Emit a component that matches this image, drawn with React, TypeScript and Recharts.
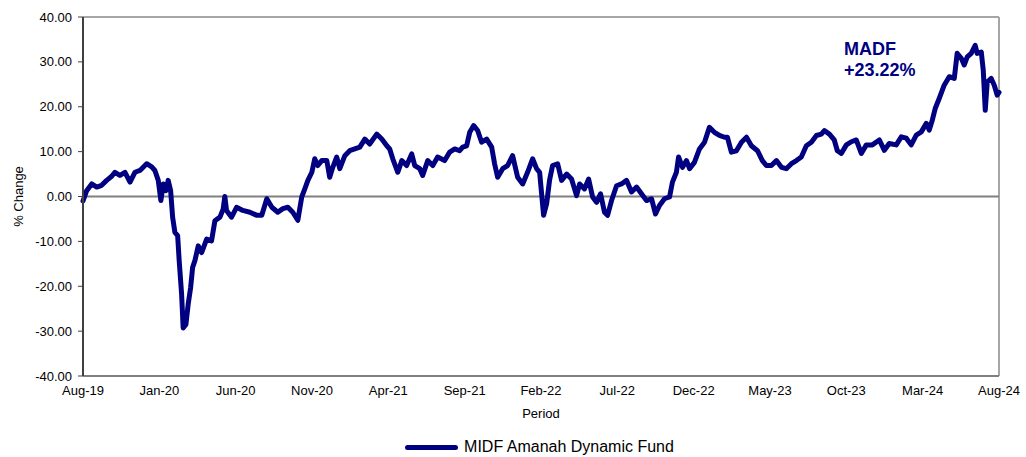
import {
  LineChart,
  Line,
  XAxis,
  YAxis,
  Legend,
  ReferenceLine,
} from "recharts";

// months elapsed since Aug-19
const monthOffsets = [
  0, 0.24, 0.57, 0.9, 1.22, 1.55, 1.88, 2.09, 2.42, 2.75, 3.08, 3.4, 3.73, 4.17, 4.5, 4.71, 4.93, 5.1, 5.26, 5.43,
  5.58, 5.74, 5.87, 6.02, 6.2, 6.3, 6.46, 6.56, 6.74, 6.89, 7.05, 7.18, 7.33, 7.55, 7.77, 8.1, 8.42, 8.64, 8.97, 9.18,
  9.29, 9.4, 9.73, 10.06, 10.47, 10.93, 11.39, 11.71, 12.04, 12.37, 12.76, 13.09, 13.42, 13.74, 14.07, 14.33, 14.53, 14.73, 14.99, 15.18,
  15.38, 15.64, 15.97, 16.16, 16.36, 16.62, 16.82, 17.15, 17.47, 17.8, 18.13, 18.46, 18.78, 19.24, 19.57, 19.9, 20.09, 20.29, 20.62, 20.88,
  21.2, 21.53, 21.73, 22.06, 22.25, 22.58, 22.91, 23.23, 23.69, 24.02, 24.35, 24.67, 24.87, 25.13, 25.33, 25.59, 25.85, 26.11, 26.44, 26.77,
  26.96, 27.16, 27.49, 27.81, 28.14, 28.47, 28.8, 29.12, 29.45, 29.71, 29.91, 30.17, 30.37, 30.56, 30.76, 31.09, 31.35, 31.68, 32.0, 32.33,
  32.53, 32.85, 33.12, 33.38, 33.64, 33.9, 34.16, 34.36, 34.62, 34.95, 35.27, 35.6, 35.93, 36.26, 36.58, 36.91, 37.24, 37.5, 37.76, 38.09,
  38.42, 38.61, 38.87, 39.01, 39.27, 39.53, 39.73, 40.05, 40.38, 40.71, 41.03, 41.36, 41.69, 42.02, 42.21, 42.47, 42.8, 43.13, 43.46, 43.78,
  44.18, 44.5, 44.76, 45.09, 45.42, 45.75, 46.07, 46.4, 46.73, 47.05, 47.38, 47.71, 48.04, 48.36, 48.56, 48.89, 49.21, 49.41, 49.67, 50.0,
  50.33, 50.65, 50.98, 51.31, 51.7, 52.16, 52.49, 52.81, 53.27, 53.6, 53.93, 54.25, 54.58, 54.91, 55.24, 55.43, 55.63, 55.82, 56.09, 56.41,
  56.74, 57.07, 57.26, 57.53, 57.72, 57.92, 58.18, 58.44, 58.57, 58.84, 58.97, 59.1, 59.23, 59.49, 59.69, 59.88, 60,
];

// % change of MADF at each point above
const pctChange = [
  -1.0, 1.3, 2.8, 2.1, 2.5, 3.6, 4.5, 5.4, 4.7, 5.4, 3.2, 5.4, 5.8, 7.3, 6.6, 5.8, 3.6, -0.9, 2.8, 1.3,
  3.6, 1.3, -4.6, -8.0, -8.7, -14.3, -21.8, -29.3, -28.5, -24.0, -20.3, -15.8, -14.3, -11.0, -12.5, -9.5, -9.9, -5.4, -4.6, -2.8,
  0.0, -3.1, -4.6, -2.4, -3.1, -3.5, -4.2, -4.2, -0.5, -2.4, -3.5, -2.7, -2.4, -3.5, -5.3, -0.1, 1.7, 3.6, 5.4, 8.4,
  6.9, 8.0, 8.0, 4.3, 6.5, 8.8, 6.2, 9.1, 10.2, 10.6, 11.0, 12.8, 11.7, 13.9, 12.8, 11.3, 10.6, 8.4, 5.4, 8.0,
  6.9, 9.5, 6.9, 6.2, 4.7, 8.0, 6.9, 8.8, 8.0, 9.9, 10.6, 10.2, 11.0, 11.3, 14.3, 15.8, 14.7, 12.1, 12.8, 11.0,
  7.3, 4.3, 6.2, 6.9, 9.1, 4.3, 2.8, 5.4, 8.4, 6.2, 5.4, -4.2, -1.6, 3.6, 6.9, 7.3, 3.6, 5.0, 3.9, 0.2,
  2.8, 1.7, 3.9, -0.1, -1.3, 0.6, -3.5, -4.2, -0.9, 2.4, 2.8, 3.6, 1.0, 2.1, 0.6, -0.9, -0.5, -3.9, -2.0, -0.5,
  -0.1, 3.2, 5.4, 8.8, 6.5, 8.0, 6.2, 7.6, 10.6, 12.1, 15.4, 14.3, 13.6, 13.2, 13.2, 9.9, 10.2, 12.1, 13.2, 11.3,
  10.2, 8.0, 6.9, 6.9, 8.0, 6.5, 6.2, 7.3, 8.0, 8.8, 11.3, 12.1, 13.6, 13.9, 14.7, 13.9, 12.6, 10.2, 9.6, 11.5,
  12.2, 12.6, 9.6, 11.5, 11.5, 12.6, 10.3, 11.8, 11.5, 13.3, 13.0, 11.5, 13.7, 14.4, 16.3, 14.8, 17.0, 19.6, 21.9, 24.8,
  26.7, 26.3, 31.9, 30.8, 29.3, 31.1, 31.9, 33.7, 31.9, 32.2, 28.1, 19.2, 25.5, 26.3, 24.8, 22.6, 23.22,
];

const tickMonths = [0, 5, 10, 15, 20, 25, 30, 35, 40, 45, 50, 55, 60];
const tickLabels = [
  "Aug-19", "Jan-20", "Jun-20", "Nov-20", "Apr-21", "Sep-21", "Feb-22",
  "Jul-22", "Dec-22", "May-23", "Oct-23", "Mar-24", "Aug-24",
];
const yTicks = [40, 30, 20, 10, 0, -10, -20, -30, -40];

const data = monthOffsets.map((m, i) => ({ m, v: pctChange[i] }));

const NAVY = "#000080";
const FONT = "'Liberation Sans', Arial, sans-serif";

function LegendBox() {
  return (
    <div
      style={{
        height: 36,
        paddingTop: 16,
        paddingLeft: 80,
        boxSizing: "border-box",
        display: "flex",
        alignItems: "center",
        justifyContent: "center",
        fontFamily: FONT,
        fontSize: 16,
        color: "#000",
      }}
    >
      <span
        style={{
          display: "inline-block",
          width: 53,
          height: 5,
          borderRadius: 3,
          background: NAVY,
          marginRight: 6,
        }}
      />
      MIDF Amanah Dynamic Fund
    </div>
  );
}

export default function App() {
  return (
    <div
      style={{
        position: "absolute",
        left: 0,
        top: 0,
        width: 1026,
        height: 457,
        background: "#fff",
        fontFamily: FONT,
      }}
    >
      <LineChart
        width={1026}
        height={457}
        data={data}
        margin={{ top: 17, right: 27, bottom: 0, left: 0 }}
      >
        <XAxis
          dataKey="m"
          type="number"
          domain={[0, 60]}
          ticks={tickMonths}
          tickFormatter={(v) => tickLabels[tickMonths.indexOf(v)] ?? ""}
          interval={0}
          height={45}
          axisLine={{ stroke: "#808080", strokeWidth: 2 }}
          tickLine={false}
          tickMargin={4}
          tick={{ fill: "#000", fontSize: 13, fontFamily: FONT }}
          label={{ value: "Period", position: "insideBottom", offset: 3, fill: "#000", fontSize: 13, fontFamily: FONT }}
        />
        <YAxis
          type="number"
          domain={[-40, 40]}
          ticks={yTicks}
          interval={0}
          width={83}
          tickFormatter={(v: number) => v.toFixed(2)}
          axisLine={{ stroke: "#404040", strokeWidth: 2 }}
          tickLine={{ stroke: "#404040" }}
          tickSize={5}
          tickMargin={6}
          tick={{ fill: "#000", fontSize: 13, fontFamily: FONT }}
          label={{
            content: (p: any) => {
              const vb = p.viewBox || { x: 0, y: 0, height: 0 };
              const cx = vb.x + 18;
              const cy = vb.y + vb.height / 2;
              return (
                <text
                  x={cx}
                  y={cy}
                  transform={`rotate(-90 ${cx} ${cy})`}
                  textAnchor="middle"
                  dominantBaseline="central"
                  fill="#000"
                  fontSize={13}
                  fontFamily={FONT}
                >
                  % Change
                </text>
              );
            },
          }}
        />
        <ReferenceLine y={40} stroke="#a6a6a6" strokeWidth={2} />
        <ReferenceLine x={60} stroke="#a6a6a6" strokeWidth={2} />
        <ReferenceLine y={0} stroke="#808080" strokeWidth={2} />
        <Legend verticalAlign="bottom" height={36} content={() => <LegendBox />} />
        <Line
          type="linear"
          dataKey="v"
          name="MIDF Amanah Dynamic Fund"
          stroke={NAVY}
          strokeWidth={5}
          strokeLinejoin="round"
          strokeLinecap="round"
          dot={false}
          isAnimationActive={false}
        />
      </LineChart>
      <div
        style={{
          position: "absolute",
          left: 844,
          top: 39,
          color: NAVY,
          fontWeight: "bold",
          fontSize: 18,
          lineHeight: "21px",
          fontFamily: FONT,
        }}
      >
        MADF
        <br />
        +23.22%
      </div>
    </div>
  );
}
